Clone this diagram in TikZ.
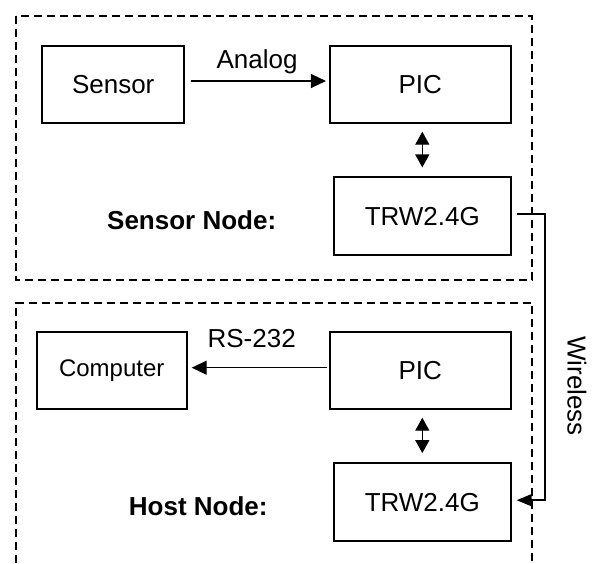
\documentclass[tikz,border=0pt]{standalone}
\usepackage{fontspec}
\setmainfont{Liberation Sans}
\usetikzlibrary{arrows.meta}

\begin{document}
\begin{tikzpicture}[x=1pt,y=-1pt]
 	\tikzstyle{every node}+=[inner sep=0pt]
 	\tikzstyle{block}=[draw=black,line width=2pt,minimum height=77.6pt,font=\fontsize{26}{30}\selectfont]
 	\tikzstyle{frame}=[black,line width=1.7pt,dash pattern=on 8pt off 5pt]
 	\tikzstyle{link}=[black,line width=1.4pt,-{Triangle[length=15pt,width=14pt]}]
 	\tikzstyle{duplex}=[black,line width=1.4pt,{Triangle[length=13pt,width=14pt]}-{Triangle[length=13pt,width=14pt]}]
 	\tikzstyle{lbl}=[font=\fontsize{26}{30}\selectfont]
 	\useasboundingbox (0,0) rectangle (593,563);
 	\draw [frame] (16,16) rectangle (532,280);
 	\draw [frame] (16,563) -- (16,302.7) -- (532.3,302.7) -- (532.3,563);
 	\node [block,minimum width=141.7pt] (sensor) at (113.2,84.5) {Sensor};
 	\node [block,minimum width=180.7pt] (pic1) at (420.3,84.5) {PIC};
 	\node [block,minimum width=176.7pt] (trw1) at (422.3,216.2) {TRW2.4G};
 	\node [block,minimum width=150pt,font=\fontsize{24}{28}\selectfont] (computer) at (111.7,370.5) {Computer};
 	\node [block,minimum width=180.7pt] (pic2) at (420.3,370.5) {PIC};
 	\node [block,minimum width=176.7pt] (trw2) at (422.3,502.2) {TRW2.4G};
 	\node [lbl] (analog) at (257,62) {Analog};
 	\node [lbl] (rs) at (251.7,338.3) {RS-232};
 	\node [lbl,font=\fontsize{26}{30}\selectfont\bfseries] (sensorlbl) at (191.7,220) {Sensor Node:};
 	\node [lbl,font=\fontsize{26}{30}\selectfont\bfseries] (hostlbl) at (198.3,506) {Host Node:};
 	\node [lbl,rotate=-90] (wireless) at (577,386) {Wireless};
 	\coordinate (wire) at (545,360);
 	\draw [link,shorten <=6pt,shorten >=3pt] ([yshift=3.5pt]sensor.east) -- ([yshift=3.5pt]pic1.west);
 	\draw [link,shorten <=2pt,shorten >=4pt] ([yshift=2.8pt]pic2.west) -- ([yshift=2.8pt]computer.east);
 	\draw [duplex,shorten <=7.4pt,shorten >=9pt] (trw1.north |- pic1.south) -- (trw1.north);
 	\draw [duplex,shorten <=7.4pt,shorten >=9.3pt] (trw2.north |- pic2.south) -- (trw2.north);
 	\draw [link,line width=1.5pt,-{Triangle[length=15pt,width=12pt]},shorten <=5pt,shorten >=5pt] ([yshift=2pt]trw1.east) -| (wire) |- ([yshift=2pt]trw2.east);
 	\end{tikzpicture}
\end{document}
